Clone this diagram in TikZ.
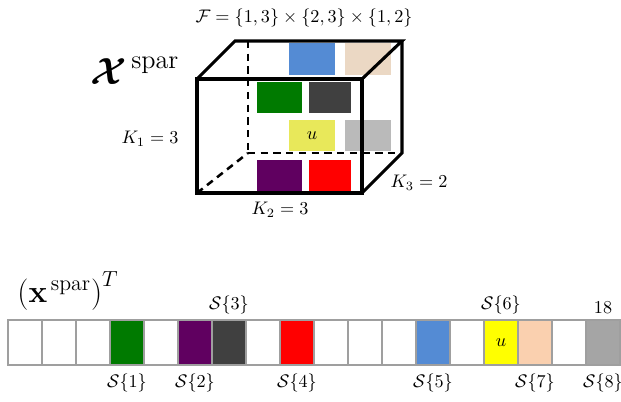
\documentclass[tikz,border=0pt]{standalone}
\usepackage{amsmath,bm}
\usetikzlibrary{positioning}

\definecolor{verde}{RGB}{0,122,0}
\definecolor{morado}{RGB}{96,0,96}
\definecolor{oscuro}{RGB}{64,64,64}
\definecolor{rojo}{RGB}{255,0,0}
\definecolor{azul}{RGB}{84,139,212}
\definecolor{amarillo}{RGB}{255,255,0}
\definecolor{amarillo suave}{RGB}{232,232,90}
\definecolor{durazno}{RGB}{250,208,175}
\definecolor{durazno suave}{RGB}{235,216,196}
\definecolor{gris}{RGB}{165,165,165}
\definecolor{gris suave}{RGB}{186,186,186}

\begin{document}
\begin{tikzpicture}[
    x=0.55pt, y=-0.55pt,
    every node/.style={align=center},
    arista/.style={draw=black, line width=1.7pt},
    arista oculta/.style={draw=black, line width=1.4pt, dash pattern=on 4pt off 3pt},
    celda/.style={draw=gray!75, line width=1.4pt, fill=white, minimum width=18.7pt,
        minimum height=24.75pt, inner sep=0pt, outer sep=0pt, anchor=north west},
    etiqueta celda/.style={inner sep=3.3pt}
]
\useasboundingbox (0,0) rectangle (621,401);

% ---- Bloques de color dentro del cubo ----
\fill[azul] (289,43) rectangle (335,75);
\fill[durazno suave] (345,43) rectangle (391,75);
\fill[verde] (257,82) rectangle (302,113);
\fill[oscuro] (309,82) rectangle (351,113);
\fill[amarillo suave] (289,120) rectangle (335,151);
\node (u cubo) at (312,135.5) {$u$};
\fill[gris suave] (345,120) rectangle (391,151);
\fill[morado] (257,160) rectangle (302,192);
\fill[rojo] (309,160) rectangle (351,192);

% ---- Vértices del cubo ----
\coordinate (f1) at (197,79);
\coordinate (f2) at (362,79);
\coordinate (f3) at (362,193);
\coordinate (f4) at (197,193);
\coordinate (t1) at (235,41);
\coordinate (t2) at (402,41);
\coordinate (t3) at (402,153);
\coordinate (t4) at (248,153);
\coordinate (t5) at (248,41);

% ---- Aristas ocultas ----
\draw[arista oculta] (t5) -- (t4);
\draw[arista oculta] (t4) -- (t3);
\draw[arista oculta] (f4) -- (t4);

% ---- Aristas visibles ----
\draw[arista] (f1) -- (f2) -- (f3) -- (f4) -- cycle;
\draw[arista] (f1) -- (t1) -- (t2) -- (f2);
\draw[arista] (t2) -- (t3) -- (f3);

% ---- Textos del cubo ----
\node (conjunto) at (304,18) {$\mathcal{F}=\{1,3\}\times\{2,3\}\times\{1,2\}$};
\node (tensor) at (135,71) {\huge$\boldsymbol{\mathcal{X}}^{\,\text{spar}}$};
\node (k1) at (150,139) {$K_1=3$};
\node (k2) at (280,210) {$K_2=3$};
\node (k3) at (419,183) {$K_3=2$};

% ---- Vector desplegado ----
\node (vector) at (68,291) {\LARGE$\left(\mathbf{x}^{\,\text{spar}}\right)^T$};
\foreach \i/\col in {1/white,2/white,3/white,4/verde,5/white,6/morado,7/oscuro,8/white,9/rojo,
    10/white,11/white,12/white,13/azul,14/white,15/amarillo,16/durazno,17/white,18/gris}
    \node[celda, fill=\col] (c\i) at ({8+34*(\i-1)},320) {};
\node at (c15) {$u$};

% ---- Etiquetas de las celdas ----
\node[etiqueta celda, below=1.5pt of c4] (s1) {$\mathcal{S}\{1\}$};
\node[etiqueta celda, below=1.5pt of c6] (s2) {$\mathcal{S}\{2\}$};
\node[etiqueta celda, above=0pt of c7] (s3) {$\mathcal{S}\{3\}$};
\node[etiqueta celda, below=1.5pt of c9] (s4) {$\mathcal{S}\{4\}$};
\node[etiqueta celda, below=1.5pt of c13] (s5) {$\mathcal{S}\{5\}$};
\node[etiqueta celda, above=0pt of c15] (s6) {$\mathcal{S}\{6\}$};
\node[etiqueta celda, below=1.5pt of c16] (s7) {$\mathcal{S}\{7\}$};
\node[etiqueta celda, below=1.5pt of c18] (s8) {$\mathcal{S}\{8\}$};
\node[etiqueta celda, above=0pt of c18] (n18) {18};

\end{tikzpicture}
\end{document}
